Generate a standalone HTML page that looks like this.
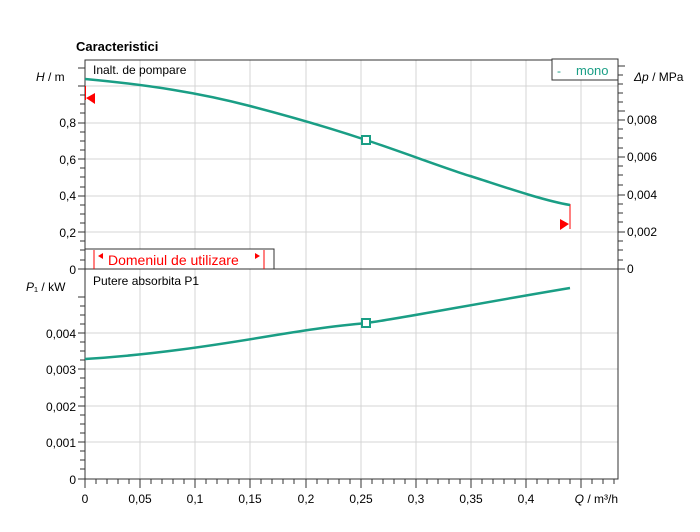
<!DOCTYPE html><html><head><style>body{margin:0;background:#fff}</style></head><body>
<svg width="700" height="527" xmlns="http://www.w3.org/2000/svg" font-family="Liberation Sans, sans-serif" font-size="12">
<rect width="700" height="527" fill="#fff"/>
<text x="76" y="51" font-weight="bold" font-size="13">Caracteristici</text>
<g stroke="#d4d4d4" stroke-width="1">
<line x1="140" y1="60" x2="140" y2="479"/><line x1="195" y1="60" x2="195" y2="479"/><line x1="250" y1="60" x2="250" y2="479"/><line x1="306" y1="60" x2="306" y2="479"/><line x1="361" y1="60" x2="361" y2="479"/><line x1="416" y1="60" x2="416" y2="479"/><line x1="471" y1="60" x2="471" y2="479"/><line x1="526" y1="60" x2="526" y2="479"/><line x1="581" y1="60" x2="581" y2="479"/>
<line x1="85" y1="86" x2="618" y2="86"/><line x1="85" y1="123" x2="618" y2="123"/><line x1="85" y1="159" x2="618" y2="159"/><line x1="85" y1="196" x2="618" y2="196"/><line x1="85" y1="232" x2="618" y2="232"/>
<line x1="85" y1="333" x2="618" y2="333"/><line x1="85" y1="369" x2="618" y2="369"/><line x1="85" y1="406" x2="618" y2="406"/><line x1="85" y1="442" x2="618" y2="442"/>
</g>
<g stroke="#333" fill="none">
<rect x="85" y="60" width="533" height="419"/>
<line x1="85" y1="269" x2="618" y2="269"/>
</g>
<g stroke="#333" stroke-width="1">
<path d="M78 68H85M78 86H85M80 95H85M80 104H85M80 113H85M78 123H85M80 132H85M80 141H85M80 150H85M78 159H85M80 168H85M80 177H85M80 187H85M78 196H85M80 205H85M80 214H85M80 223H85M78 232H85M80 241H85M80 250H85M80 260H85M78 269H85"/>
<path d="M78 297H85M80 306H85M80 315H85M80 324H85M78 333H85M80 342H85M80 351H85M80 360H85M78 369H85M80 378H85M80 388H85M80 397H85M78 406H85M80 415H85M80 424H85M80 433H85M78 442H85M80 451H85M80 460H85M80 469H85M78 479H85"/>
<path d="M618 66H625M618 75H623M618 84H623M618 93H623M618 102H623M618 111H625M618 120H625M618 129H623M618 138H623M618 148H623M618 157H625M618 166H623M618 175H623M618 185H623M618 195H625M618 204H623M618 213H623M618 222H623M618 232H625M618 241H623M618 250H623M618 260H623M618 269H625"/>
<path d="M85 479V488M96 479V484M107 479V484M118 479V484M129 479V484M140 479V488M151 479V484M162 479V484M173 479V484M184 479V484M195 479V488M206 479V484M217 479V484M228 479V484M239 479V484M250 479V488M261 479V484M272 479V484M283 479V484M294 479V484M306 479V488M317 479V484M328 479V484M339 479V484M350 479V484M361 479V488M372 479V484M383 479V484M394 479V484M405 479V484M416 479V488M427 479V484M438 479V484M449 479V484M460 479V484M471 479V488M482 479V484M493 479V484M504 479V484M515 479V484M526 479V488M537 479V484M548 479V484M559 479V484M570 479V484M581 479V488M592 479V484M603 479V484M614 479V484"/>
</g>
<g font-size="12" text-anchor="end">
<text x="76" y="127">0,8</text><text x="76" y="164">0,6</text><text x="76" y="200">0,4</text><text x="76" y="237">0,2</text><text x="76" y="274">0</text>
<text x="76" y="338">0,004</text><text x="76" y="374">0,003</text><text x="76" y="411">0,002</text><text x="76" y="447">0,001</text><text x="76" y="484">0</text>
</g>
<text x="36" y="81"><tspan font-style="italic">H</tspan> / m</text>
<text x="26" y="291"><tspan font-style="italic">P</tspan>₁ / kW</text>
<text x="634" y="81"><tspan font-style="italic">Δp</tspan> / MPa</text>
<g font-size="12"><text x="627" y="124">0,008</text><text x="627" y="161">0,006</text><text x="627" y="199">0,004</text><text x="627" y="236">0,002</text><text x="627" y="273">0</text></g>
<g font-size="12" text-anchor="middle">
<text x="85" y="503">0</text><text x="140" y="503">0,05</text><text x="195" y="503">0,1</text><text x="250" y="503">0,15</text><text x="306" y="503">0,2</text><text x="361" y="503">0,25</text><text x="416" y="503">0,3</text><text x="471" y="503">0,35</text><text x="526" y="503">0,4</text>
</g>
<text x="618" y="503" text-anchor="end"><tspan font-style="italic">Q</tspan> / m³/h</text>
<text x="93" y="74">Inalt. de pompare</text>
<text x="93" y="285">Putere absorbita P1</text>
<rect x="552" y="59" width="66" height="21" fill="#fff" stroke="#333"/>
<text x="557" y="75" fill="#1a9e85">-</text><text x="576" y="75" fill="#1a9e85" font-size="13">mono</text>
<rect x="85" y="249" width="189" height="20" fill="#fff" stroke="#333"/>
<g stroke="red"><line x1="94" y1="250" x2="94" y2="269"/><line x1="264" y1="250" x2="264" y2="269"/><line x1="570" y1="204" x2="570" y2="229"/><line x1="85.5" y1="86" x2="85.5" y2="100"/></g>
<polygon points="98,256 103,253 103,259" fill="red"/><polygon points="260,256 255,253 255,259" fill="red"/>
<text x="108" y="265" fill="red" font-size="14">Domeniul de utilizare</text>
<polygon points="86,98 95,93 95,104" fill="red"/>
<polygon points="569,224 560,219 560,230" fill="red"/>
<path d="M85 79 C150 85 200 93 250 106 S330 128 366 140 S450 170 470 176 S540 200 570 205" fill="none" stroke="#1a9e85" stroke-width="2.5"/>
<path d="M85 359 C150 355 210 346 270 336 S340 326 366 323 S480 303 570 288" fill="none" stroke="#1a9e85" stroke-width="2.5"/>
<rect x="362" y="136" width="8" height="8" fill="#fff" stroke="#1a9e85" stroke-width="2"/>
<rect x="362" y="319" width="8" height="8" fill="#fff" stroke="#1a9e85" stroke-width="2"/>
</svg></body></html>
